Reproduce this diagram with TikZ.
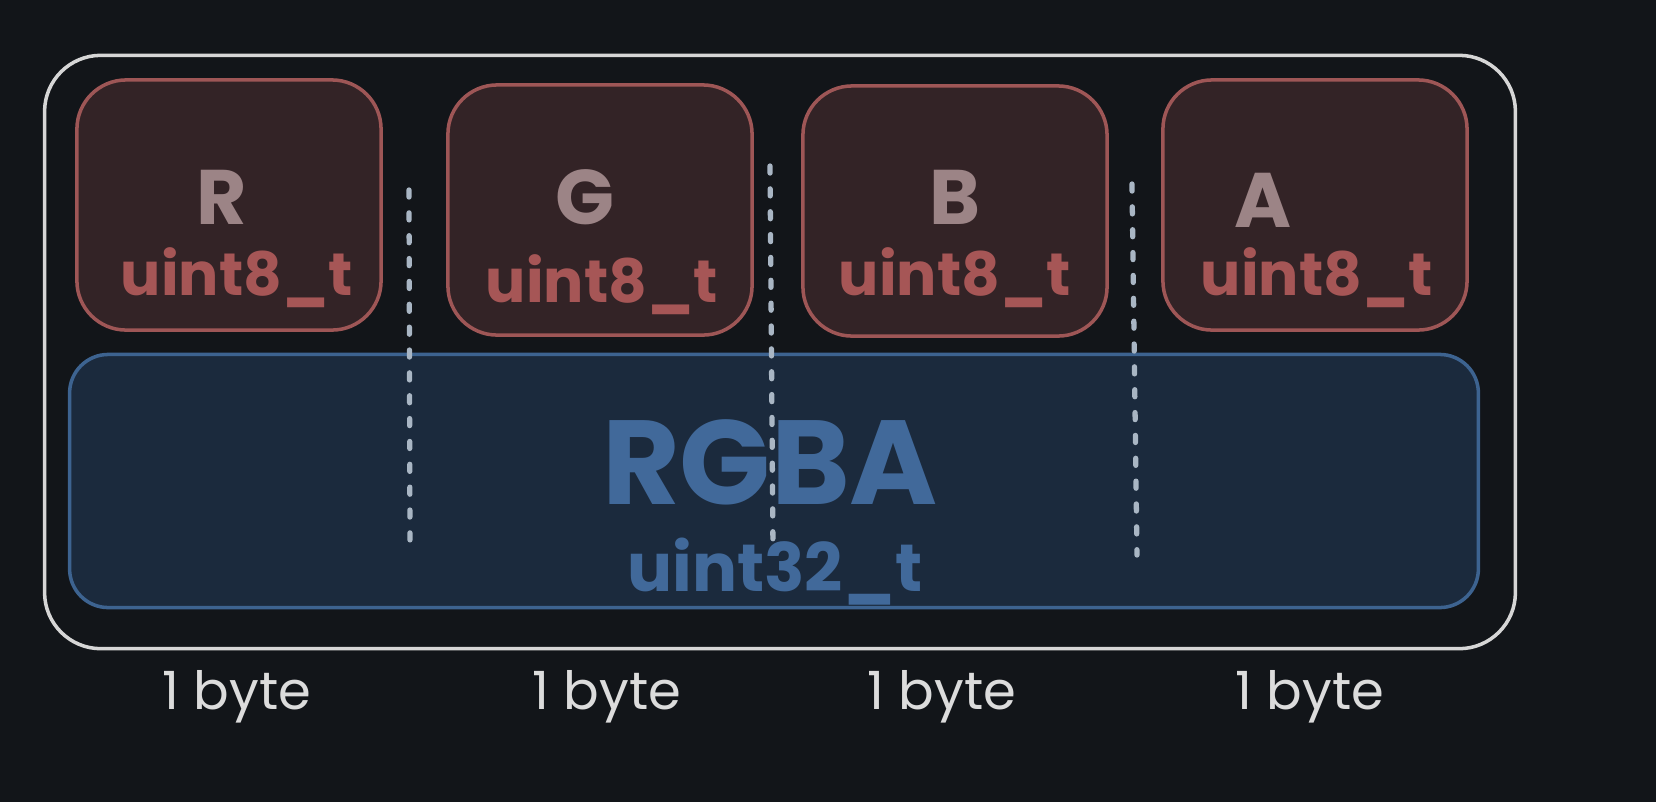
\documentclass[tikz,border=0pt]{standalone}
\usepackage{fontspec}
\setmainfont{Poppins}
\definecolor{fondo}{HTML}{121519}
\definecolor{marco}{HTML}{D6D6D6}
\definecolor{rojofondo}{HTML}{332326}
\definecolor{rojolinea}{HTML}{9E5656}
\definecolor{rojotexto}{HTML}{A65656}
\definecolor{letra}{HTML}{9C8486}
\definecolor{azulfondo}{HTML}{1B2A3D}
\definecolor{azullinea}{HTML}{3D6390}
\definecolor{azultexto}{HTML}{41699A}
\definecolor{puntos}{HTML}{A9B6C4}
\definecolor{bytes}{HTML}{DCDCDC}
\begin{document}
\begin{tikzpicture}[x=0.01cm, y=-0.01cm,
    campo/.style={draw=rojolinea, fill=rojofondo, line width=1pt, rounded corners=14pt, minimum width=3.04cm, minimum height=2.5cm, inner sep=0pt},
    letra/.style={color=letra, font=\fontsize{22}{26}\selectfont\bfseries},
    tipo/.style={color=rojotexto, font=\fontsize{17}{20}\selectfont\bfseries},
    tamano/.style={color=bytes, font=\fontsize{15}{18}\selectfont}]
    % Fondo
    \useasboundingbox (0,0) rectangle (1656,802);
    \fill[fondo] (0,0) rectangle (1656,802);
    % Marco exterior
    \node[draw=marco, line width=1pt, rounded corners=16pt, minimum width=14.7cm, minimum height=5.93cm, inner sep=0pt] (marco) at (780,352) {};
    % Valor de 32 bits
    \node[draw=azullinea, fill=azulfondo, line width=1pt, rounded corners=11pt, minimum width=14.08cm, minimum height=2.53cm, inner sep=0pt] (rgba) at (774,481) {};
    % Campos de 8 bits
    \node[campo] (r) at (229,205) {};
    \node[campo] (g) at (600,210) {};
    \node[campo] (b) at (955,211) {};
    \node[campo] (a) at (1315,205) {};
    % Textos de los campos
    \node[letra] (rl) at (222,197) {R};
    \node[tipo] (rt) at (237,278) {uint8\_t};
    \node[letra] (gl) at (585,197) {G};
    \node[tipo] (gt) at (602,285) {uint8\_t};
    \node[letra] (bl) at (955,197) {B};
    \node[tipo] (bt) at (955,278) {uint8\_t};
    \node[letra] (al) at (1263,200) {A};
    \node[tipo] (att) at (1317,278) {uint8\_t};
    % Texto del valor
    \node[color=azultexto, font=\fontsize{34}{40}\selectfont\bfseries] (rgbal) at (770,462) {RGBA};
    \node[color=azultexto, font=\fontsize{19}{22}\selectfont\bfseries] (rgbat) at (775,572) {uint32\_t};
    % Separadores punteados
    \draw[puntos, line width=1.5pt, dash pattern=on 2pt off 4.5pt, line cap=round] (409,190) -- (410,545);
    \draw[puntos, line width=1.5pt, dash pattern=on 2pt off 4.5pt, line cap=round] (770,166) -- (773,550);
    \draw[puntos, line width=1.5pt, dash pattern=on 2pt off 4.5pt, line cap=round] (1132,184) -- (1137,555);
    % Tamanos
    \node[tamano] (t1) at (237,697) {1 byte};
    \node[tamano] (t2) at (607,697) {1 byte};
    \node[tamano] (t3) at (942,697) {1 byte};
    \node[tamano] (t4) at (1310,697) {1 byte};
\end{tikzpicture}
\end{document}
